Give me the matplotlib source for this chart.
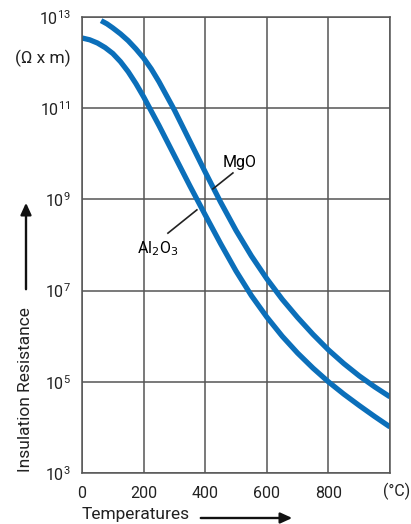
import numpy as np
import matplotlib
matplotlib.use("Agg")
import matplotlib.pyplot as plt

# temperature in degC, log10 of resistance
t_al = [0, 25, 50, 75, 100, 125, 150, 175, 200, 250, 300, 350, 400, 450, 500, 550, 600, 650, 700, 750, 800, 850, 900, 950, 1000]
log_al = [12.54, 12.50, 12.43, 12.33, 12.20, 12.02, 11.80, 11.54, 11.25, 10.62, 9.96, 9.30, 8.66, 8.03, 7.43, 6.89, 6.42, 6.00, 5.63, 5.30, 5.00, 4.73, 4.48, 4.24, 4.01]

t_mgo = [62, 81, 100, 125, 150, 175, 200, 225, 250, 300, 350, 400, 450, 500, 550, 600, 650, 700, 750, 800, 850, 900, 950, 1000]
log_mgo = [12.92, 12.85, 12.76, 12.63, 12.48, 12.30, 12.10, 11.86, 11.58, 10.96, 10.28, 9.60, 8.94, 8.32, 7.76, 7.26, 6.81, 6.41, 6.04, 5.70, 5.40, 5.13, 4.89, 4.67]

x_ticks = [0, 200, 400, 600, 800]
y_exps = [3, 5, 7, 9, 11, 13]

plt.rcParams['font.family'] = ['Roboto', 'DejaVu Sans']

fig = plt.figure(figsize=(4.11, 5.24), dpi=100)
ax = fig.add_axes([82/411, 51/524, 308/411, 456/524])

blue = '#0b6fba'
ax.plot(t_al, 10**np.array(log_al), color=blue, lw=3.8, solid_capstyle='butt', solid_joinstyle='round')
ax.plot(t_mgo, 10**np.array(log_mgo), color=blue, lw=3.8, solid_capstyle='butt', solid_joinstyle='round')

ax.set_yscale('log')
ax.set_xlim(0, 1000)
ax.set_ylim(1e3, 1e13)
ax.set_xticks(x_ticks + [1000])
ax.set_xticklabels([str(v) for v in x_ticks] + [''])
ax.set_yticks([10.0**e for e in y_exps])
ax.set_yticklabels(['$\\mathregular{10^{%d}}$' % e for e in y_exps])
ax.yaxis.set_minor_locator(matplotlib.ticker.NullLocator())
ax.tick_params(length=0, labelsize=11.5, colors='#222222')
ax.tick_params(axis='y', pad=8)
ax.tick_params(axis='x', pad=9)
ax.grid(True, color='#555555', lw=1.1)
for s in ax.spines.values():
    s.set_color('#555555')
    s.set_linewidth(1.1)

# unit label in the place of the last x tick
ax.text(1020, -18/456, '(°C)', ha='center', va='center', fontsize=11.5, color='#222222',
        transform=ax.get_xaxis_transform(), clip_on=False)

# material labels with leader lines
ax.plot([425, 490], [10**9.23, 10**9.58], color='#222222', lw=1.2)
ax.text(513, 10**9.80, 'MgO', ha='center', va='center', fontsize=11.5)
ax.plot([279, 373], [10**8.26, 10**8.77], color='#222222', lw=1.2)
ax.text(246, 10**7.93, 'Al$_2$O$_3$', ha='center', va='center', fontsize=11.5)

fig.text(43/411, 1 - 58/524, '(Ω x m)', ha='center', va='center', fontsize=12.5, color='#222222')

# axis titles with arrows
fig.text(26/411, 1 - 390/524, 'Insulation Resistance', rotation=90, ha='center', va='center',
         fontsize=12.5, color='#222222')
fig.patches.append(matplotlib.patches.FancyArrowPatch(
    (26/411, 1 - 292/524), (26/411, 1 - 200/524), transform=fig.transFigure,
    arrowstyle='-|>,head_length=7,head_width=3.2', lw=1.7, color='#111111'))
fig.text(136/411, 1 - 515/524, 'Temperatures', ha='center', va='center',
         fontsize=12.5, color='#222222')
fig.patches.append(matplotlib.patches.FancyArrowPatch(
    (198/411, 1 - 518/524), (295/411, 1 - 518/524), transform=fig.transFigure,
    arrowstyle='-|>,head_length=7,head_width=3.2', lw=1.7, color='#111111'))

fig.savefig('out.png', dpi=100)
